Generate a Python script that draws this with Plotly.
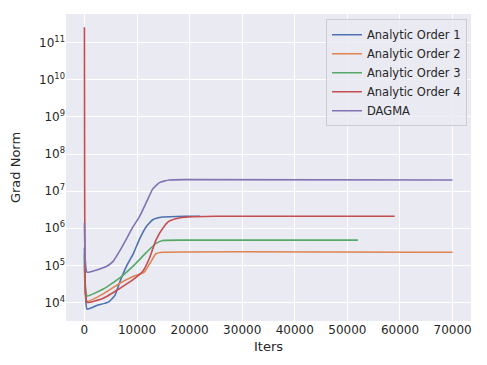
import plotly.graph_objects as go

# values (log-scale y)
order1_iters = [0, 150, 500, 2375, 4560, 5800, 6750, 8000, 9250, 10500, 11750, 13000, 14900, 19250, 22000]
order1_norm = [3e5, 2e4, 6.6e3, 8.3e3, 1.02e4, 1.55e4, 3.6e4, 9.5e4, 2.0e5, 5.2e5, 1.1e6, 1.7e6, 2.0e6, 2.1e6, 2.1e6]

order2_iters = [0, 150, 500, 3600, 6750, 9250, 11400, 12700, 13600, 14900, 70000]
order2_norm = [1e5, 2e4, 1.07e4, 1.7e4, 3.3e4, 5.0e4, 6.6e4, 1.3e5, 2.05e5, 2.25e5, 2.25e5]

order3_iters = [0, 150, 500, 3600, 6750, 9250, 11750, 13600, 14900, 19250, 52000]
order3_norm = [2e5, 3e4, 1.5e4, 2.3e4, 4.6e4, 9.5e4, 2.2e5, 3.9e5, 4.7e5, 4.8e5, 4.8e5]

order4_iters = [0, 50, 200, 500, 3600, 6750, 9250, 11100, 12400, 13600, 14900, 16100, 18000, 19250, 25000, 59000]
order4_norm = [2.6e11, 1e7, 2e4, 1.0e4, 1.3e4, 2.4e4, 4.1e4, 6.9e4, 1.6e5, 4.8e5, 1.0e6, 1.55e6, 1.9e6, 2.0e6, 2.1e6, 2.1e6]

dagma_iters = [0, 150, 500, 4250, 5500, 6750, 8000, 9250, 10500, 11750, 13000, 14250, 16100, 19250, 70000]
dagma_norm = [1.4e6, 1.5e5, 6.5e4, 9.5e4, 1.3e5, 2.5e5, 5.2e5, 1.1e6, 2.1e6, 4.9e6, 1.15e7, 1.7e7, 2.0e7, 2.05e7, 2.0e7]

series = [
    ("Analytic Order 1", order1_iters, order1_norm, "#4C72B0"),
    ("Analytic Order 2", order2_iters, order2_norm, "#DD8452"),
    ("Analytic Order 3", order3_iters, order3_norm, "#55A868"),
    ("Analytic Order 4", order4_iters, order4_norm, "#C44E52"),
    ("DAGMA", dagma_iters, dagma_norm, "#8172B3"),
]

x_ticks = [0, 10000, 20000, 30000, 40000, 50000, 60000, 70000]
y_exps = list(range(4, 12))

fig = go.Figure()
for name, xs, ys, color in series:
    fig.add_trace(go.Scatter(
        x=xs, y=ys, mode="lines", name=name,
        line=dict(color=color, width=1.6, shape="spline", smoothing=0.4),
    ))

# page body adds an 8px offset, so the figure is a bit smaller than the window
font = "DejaVu Sans"
fig.update_layout(
    width=479, height=357,
    margin=dict(l=58, r=16, t=6, b=44),
    paper_bgcolor="white",
    plot_bgcolor="#EAEAF2",
    font=dict(family=font, size=12, color="#262626"),
    legend=dict(
        x=0.99, y=0.983, xanchor="right", yanchor="top",
        bgcolor="rgba(234,234,242,0.8)", bordercolor="#cccccc", borderwidth=1,
        font=dict(size=11.5), tracegroupgap=0,
    ),
    showlegend=True,
)
fig.update_xaxes(
    range=[-3500, 73500], automargin=False,
    tickvals=x_ticks, ticktext=[str(v) for v in x_ticks],
    showgrid=True, gridcolor="white", gridwidth=1,
    zeroline=False, showline=False, ticks="",
    title=dict(text="Iters", font=dict(size=13), standoff=5),
)
fig.update_yaxes(
    type="log", range=[3.50, 11.775], automargin=False,
    tickvals=[10 ** e for e in y_exps],
    ticktext=[f"10<sup>{e}</sup>" for e in y_exps],
    showgrid=True, gridcolor="white", gridwidth=1,
    zeroline=False, showline=False, ticks="",
    title=dict(text="Grad Norm", font=dict(size=13), standoff=20),
)

fig.write_html("out.html")
